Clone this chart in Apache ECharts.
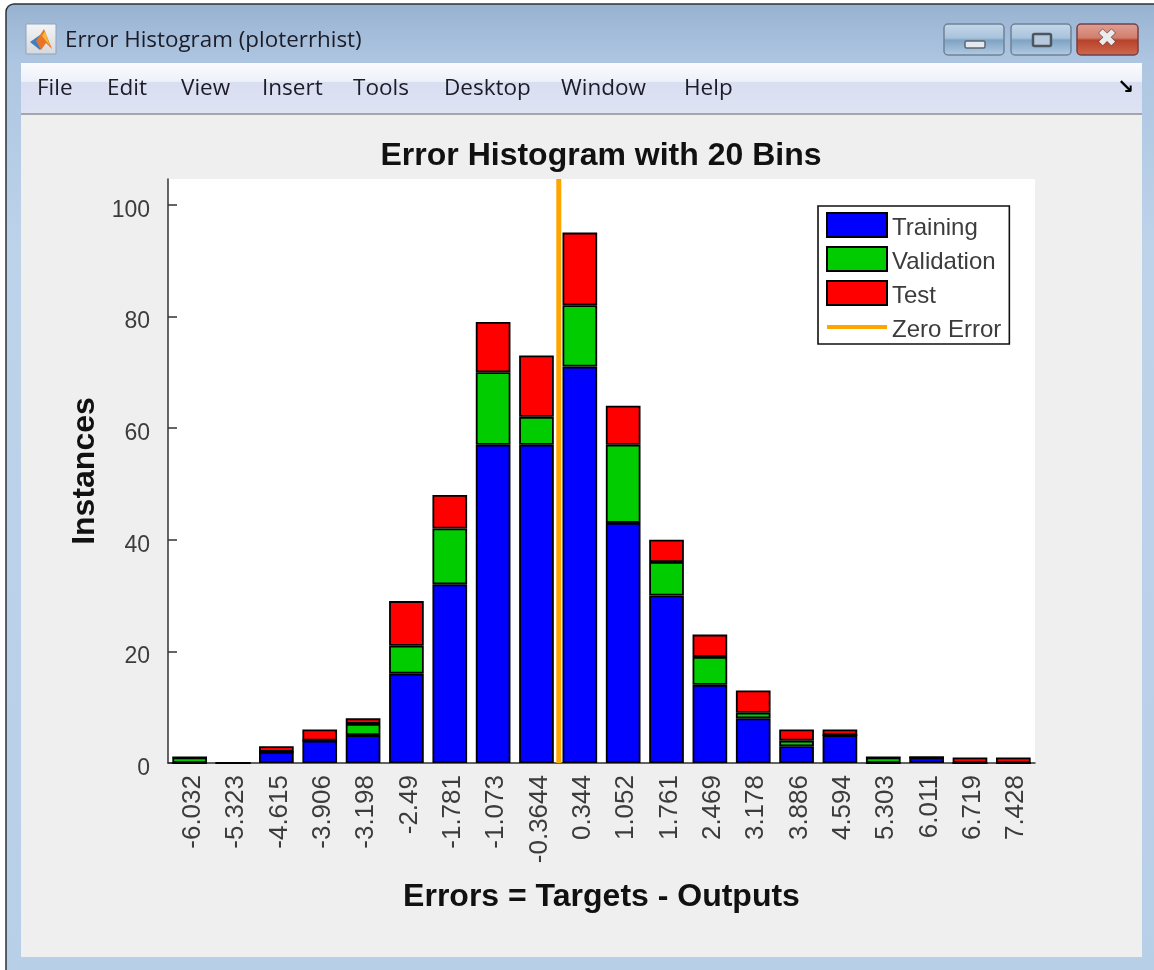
<!DOCTYPE html>
<html><head><meta charset="utf-8">
<style>html,body{margin:0;padding:0;background:#fff;overflow:hidden}#c{width:1154px;height:970px;filter:blur(0.5px)}</style>
<script src="https://cdn.jsdelivr.net/npm/echarts@6/dist/echarts.min.js"></script>
</head><body><div id="c"></div>
<script>
const binLabels = ['-6.032','-5.323','-4.615','-3.906','-3.198','-2.49','-1.781','-1.073','-0.3644','0.344','1.052','1.761','2.469','3.178','3.886','4.594','5.303','6.011','6.719','7.428'];
const training   = [0,0,2,4,5,16,32,57,57,71,43,30,14,8,3,5,0,1,0,0];
const validation = [1,0,0,0,2,5,10,13,5,11,14,6,5,1,1,0,1,0,0,0];
const test       = [0,0,1,2,1,8,6,9,11,13,7,4,4,4,2,1,0,0,1,1];
const yTicks = [0,20,40,60,80,100];
const yMax = 104.6;
const zeroError = 0;
const errMin = -6.386, errMax = 7.782;
const menuItems = [['File',37],['Edit',107],['View',181],['Insert',262],['Tools',353],['Desktop',444],['Window',561],['Help',684]];

const FONT = '"Liberation Sans", Arial, sans-serif';
const UI = '"Open Sans", "Noto Sans", sans-serif';
const grad = (stops) => ({type:'linear',x:0,y:0,x2:0,y2:1,colorStops:stops.map(([offset,color])=>({offset,color}))});
const rect = (x,y,w,h,fill,extra={}) => ({type:'rect',z:-10,silent:true,shape:{x,y,width:w,height:h,r:extra.r||0},style:{fill,stroke:extra.stroke||null,lineWidth:extra.lw||0}});
const txt = (x,y,t,size,fill) => ({type:'text',z:-9,silent:true,x,y,style:{text:t,font:`${size}px ${UI}`,fill,textVerticalAlign:'middle'}});
const btn = (x,w,c,stroke) => rect(x,24,w,31,grad([[0,c[0]],[0.45,c[1]],[0.52,c[2]],[1,c[3]]]),{r:4,stroke,lw:1.5});
const blueBtn = ['#c6d8ea','#a9c3dc','#7fa3c4','#b4cde4'];
const redBtn = ['#e3a094','#d07f6e','#b8412a','#cf6a50'];

const chrome = [
  rect(6,4,1170,990,grad([[0,'#97b2d1'],[0.06,'#aec6e1'],[0.25,'#bdd3ea'],[1,'#b8cfe8']]),{r:8,stroke:'#2e3236',lw:1.5}),
  rect(21,63,1121,51,grad([[0,'#fafbfe'],[0.36,'#eef1fa'],[0.38,'#d9dff1'],[1,'#dde3f3']])),
  rect(21,113,1121,2,'#a4a6ab'),
  rect(21,115,1121,842,'#efefef'),
  txt(65,41,'Error Histogram (ploterrhist)',22.4,'#1c1c28'),
  rect(26,24,30,30,grad([[0,'#f4f5f7'],[1,'#d5d8dc']]),{stroke:'#8ea3ba',lw:1}),
  {type:'polygon',z:-9,silent:true,shape:{points:[[30,42],[40,35],[44,45],[40,50]]},style:{fill:'#3f7fc0'}},
  {type:'polygon',z:-9,silent:true,shape:{points:[[36,41],[44,29],[52,49],[46,43],[41,50]]},style:{fill:'#e8742a'}},
  {type:'polygon',z:-9,silent:true,shape:{points:[[42,36],[45,31],[50,46],[46,41]]},style:{fill:'#f6b73c'}},
  btn(944,60,blueBtn,'#6f8296'),
  btn(1011,60,blueBtn,'#6f8296'),
  btn(1077,61,redBtn,'#71404a'),
  rect(965,41,20,7,'#e4e9ef',{r:1.5,stroke:'#5c6670',lw:1.5}),
  rect(1033,34,18,12,'#b6c9dc',{r:1.5,stroke:'#4d5660',lw:2.5}),
  {type:'text',z:-9,silent:true,x:1107,y:40,style:{text:'✖',font:'bold 24px "DejaVu Sans"',fill:'#ececec',stroke:'#6b4040',lineWidth:1.2,textAlign:'center',textVerticalAlign:'middle'}},
  {type:'text',z:-9,silent:true,x:1126,y:88,style:{text:'↘',font:'bold 20px "DejaVu Sans"',fill:'#000',textAlign:'center',textVerticalAlign:'middle'}},
  ...menuItems.map(([t,x])=>txt(x,89,t,22.5,'#1c1c28'))
];

const barSeries = (name,data,color) => ({
  name,type:'bar',stack:'all',data,barWidth:'80%',
  itemStyle:{color,borderColor:'#000',borderWidth:1.8}
});

const option = {
  animation:false,
  backgroundColor:'transparent',
  textStyle:{fontFamily:FONT},
  graphic:{elements:chrome},
  title:{text:'Error Histogram with 20 Bins',left:596,top:135,textAlign:'center',
    textStyle:{fontFamily:FONT,fontWeight:'bold',fontSize:32,color:'#111'}},
  grid:{left:168,top:179,width:867,height:584,show:true,backgroundColor:'#fff',borderWidth:0,containLabel:false},
  legend:{
    left:818,top:206,orient:'vertical',padding:[4,8,2,8],itemGap:4,itemWidth:60,itemHeight:24,icon:'rect',
    backgroundColor:'#fff',borderColor:'#111',borderWidth:1.6,selectedMode:false,
    formatter:(n)=>`{t|${n}}`,
    textStyle:{fontFamily:FONT,fontSize:24,color:'#3c3c3c',
      rich:{t:{fontFamily:FONT,fontSize:24,color:'#3c3c3c',lineHeight:18,padding:[6,0,0,0]}}},
    data:['Training','Validation','Test',
      {name:'Zero Error',icon:'path://M0 0L0 0M0 10H60V14H0ZM60 24L60 24',itemStyle:{color:'#ffa500',borderWidth:0}}]
  },
  xAxis:[{
    type:'category',data:binLabels,
    axisLine:{lineStyle:{color:'#333',width:1.5}},
    axisTick:{alignWithLabel:true,inside:true,length:9,lineStyle:{color:'#333',width:1.5}},
    axisLabel:{rotate:90,interval:0,margin:12,fontFamily:FONT,fontSize:26,color:'#3c3c3c',hideOverlap:false,verticalAlign:'top',lineHeight:6},
    name:'Errors = Targets - Outputs',nameLocation:'middle',nameGap:118,
    nameTextStyle:{fontFamily:FONT,fontWeight:'bold',fontSize:32,color:'#111'}
  },{type:'value',show:false,min:errMin,max:errMax,position:'top'}],
  yAxis:[{
    type:'value',min:0,max:yMax,
    splitLine:{show:false},
    axisLine:{show:true,onZero:false,lineStyle:{color:'#333',width:1.5}},
    axisTick:{show:true,inside:true,length:9,customValues:yTicks,lineStyle:{color:'#333',width:1.5}},
    axisLabel:{customValues:yTicks,margin:18,fontFamily:FONT,fontSize:23,color:'#3c3c3c',verticalAlign:'top',lineHeight:11},
    name:'Instances',nameLocation:'middle',nameRotate:90,nameGap:58,
    nameTextStyle:{fontFamily:FONT,fontWeight:'bold',fontSize:32,color:'#111'}
  }],
  series:[
    barSeries('Training',training,'#0000ff'),
    barSeries('Validation',validation,'#00cc00'),
    barSeries('Test',test,'#ff0000'),
    {name:'Zero Error',type:'line',xAxisIndex:1,showSymbol:false,symbol:'none',z:5,
     data:[[zeroError,0],[zeroError,yMax]],
     lineStyle:{color:'#ffa500',width:5},itemStyle:{color:'#ffa500'}}
  ]
};
const chart = echarts.init(document.getElementById('c'),null,{renderer:'canvas'});
chart.setOption(option);
</script></body></html>
